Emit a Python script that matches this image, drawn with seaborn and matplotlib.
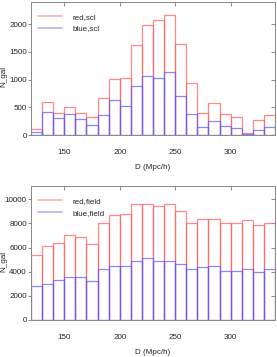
import numpy as np
import pandas as pd
import matplotlib
matplotlib.use("Agg")
import matplotlib.pyplot as plt
import seaborn as sns
from matplotlib.lines import Line2D

# bin edges of D (Mpc/h)
bin_edges = list(range(120, 341, 10))
bin_centers = [e + 5 for e in bin_edges[:-1]]

# cluster sample
red_scl = [100, 600, 400, 510, 400, 330, 670, 1010, 1020, 1630, 1990,
           2080, 2170, 1640, 940, 400, 580, 380, 330, 40, 270, 360]
blue_scl = [60, 420, 300, 380, 290, 180, 360, 640, 530, 890, 1070,
            1030, 1140, 710, 380, 150, 260, 160, 130, 20, 90, 140]

# field sample
red_field = [5400, 6150, 6400, 7050, 6900, 6300, 8050, 8700, 8750, 9650, 9650,
             9450, 9600, 9000, 8000, 8400, 8400, 8050, 8050, 8250, 7900, 8050]
blue_field = [2850, 3000, 3350, 3600, 3550, 3200, 4200, 4450, 4500, 4900, 5100,
              4850, 4850, 4650, 4200, 4350, 4450, 4100, 4100, 4200, 4000, 4200]

sns.set_style("ticks")
plt.rcParams['font.family'] = ['Liberation Sans', 'DejaVu Sans']

RED = '#ff6060'
BLUE = '#6060ff'
FS = 5.8

fig = plt.figure(figsize=(2.77, 3.57), dpi=100)
ax1 = fig.add_axes([31/277, 1 - 135/357, 244/277, 133/357])
ax2 = fig.add_axes([31/277, 1 - 320/357, 244/277, 134/357])


def draw(ax, red, blue, lab, ymax, yticks):
    df = pd.DataFrame({'D': bin_centers, 'red': red, 'blue': blue})
    sns.histplot(data=df, x='D', weights='red', bins=bin_edges, fill=False,
                 color=RED, alpha=0.75, linewidth=0.9, ax=ax)
    sns.histplot(data=df, x='D', weights='blue', bins=bin_edges, fill=False,
                 color=BLUE, alpha=0.75, linewidth=0.9, ax=ax)
    ax.set_xlim(120, 340)
    ax.set_ylim(0, ymax)
    ax.set_xticks([150, 200, 250, 300])
    ax.set_yticks(yticks)
    ax.tick_params(axis='x', direction='in', top=True, length=3, width=0.6,
                   pad=10, labelsize=FS, color='#777777', labelcolor='#222222')
    ax.tick_params(axis='y', direction='out', length=2, width=0.6, pad=1,
                   labelsize=FS, color='#777777', labelcolor='#222222')
    # inward ticks on the right side
    sec = ax.secondary_yaxis('right')
    sec.set_yticks(yticks)
    sec.tick_params(direction='in', length=3, width=0.6, labelright=False,
                    color='#777777')
    sec.spines['right'].set_visible(False)
    for s in ax.spines.values():
        s.set_color('#888888')
        s.set_linewidth(0.7)
    ax.set_xlabel('D (Mpc/h)', fontsize=FS, labelpad=6, color='#222222')
    ax.set_ylabel('N_gal', fontsize=FS, color='#222222')
    ax.yaxis.set_label_coords(-0.095, 0.44)
    handles = [Line2D([], [], color=RED, alpha=0.45, lw=1.3),
               Line2D([], [], color=BLUE, alpha=0.45, lw=1.3)]
    ax.legend(handles, ['red,' + lab, 'blue,' + lab], loc='upper left',
              frameon=False, fontsize=FS, handlelength=3.0, handletextpad=1.2,
              borderaxespad=0.5, labelspacing=0.5, bbox_to_anchor=(0.0, 0.97))


draw(ax1, red_scl, blue_scl, 'scl', 2400, [0, 500, 1000, 1500, 2000])
draw(ax2, red_field, blue_field, 'field', 11100, [0, 2000, 4000, 6000, 8000, 10000])

fig.savefig('out.png', dpi=100)
